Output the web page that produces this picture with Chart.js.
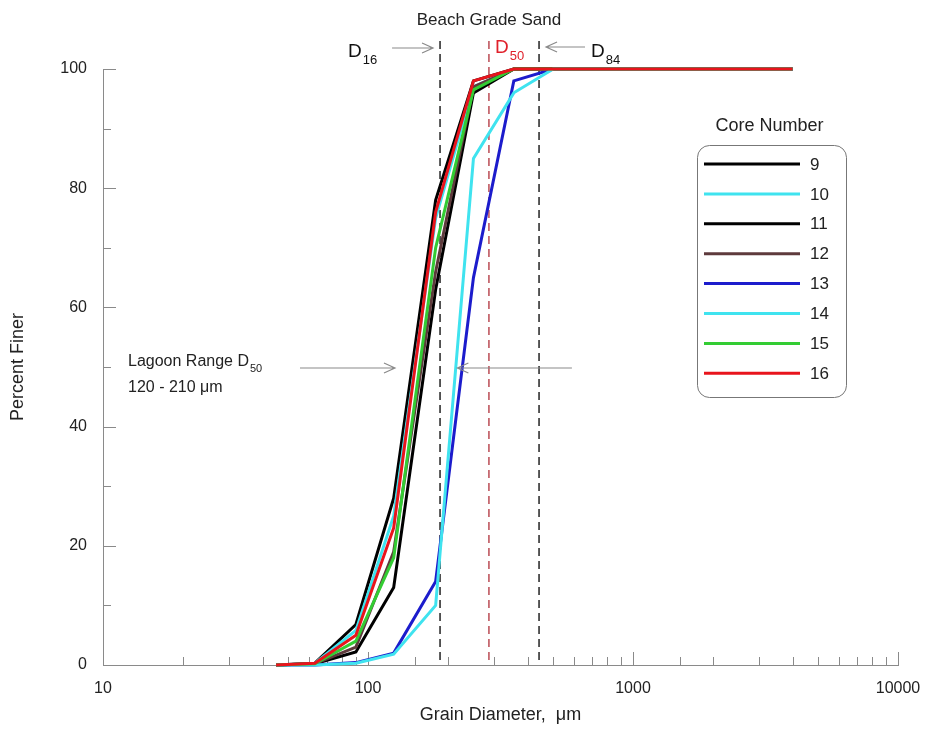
<!DOCTYPE html>
<html lang="en">
<head>
  <meta charset="UTF-8" />
  <title>Grain Size Distribution</title>
  <script src="https://cdn.jsdelivr.net/npm/chart.js"></script>
  <style>
    html, body { margin: 0; padding: 0; background: #fff; }
    #wrap { width: 928px; height: 730px; position: relative; }
  </style>
</head>
<body>
  <div id="wrap"><canvas id="gradation"></canvas></div>

  <script>
    // sieve sizes (um) and percent finer for each core
    const sizes  = [45, 63, 90, 125, 180, 250, 355, 500, 710, 1000, 1400, 2000, 2800, 4000];
    const core9  = [0, 0.3, 6.8, 28, 78, 98, 100, 100, 100, 100, 100, 100, 100, 100];
    const core10 = [0, 0.3, 5.8, 25, 75, 97, 100, 100, 100, 100, 100, 100, 100, 100];
    const core11 = [0, 0.2, 2.2, 13, 63, 96, 100, 100, 100, 100, 100, 100, 100, 100];
    const core12 = [0, 0.2, 3.0, 19, 66, 97, 100, 100, 100, 100, 100, 100, 100, 100];
    const core13 = [0, 0, 0.4, 2.0, 14, 65, 98, 100, 100, 100, 100, 100, 100, 100];
    const core14 = [0, 0, 0.3, 1.8, 10, 85, 96, 100, 100, 100, 100, 100, 100, 100];
    const core15 = [0, 0.2, 4.0, 18, 70, 96.5, 100, 100, 100, 100, 100, 100, 100, 100];
    const core16 = [0, 0.3, 5.0, 23, 76, 98, 100, 100, 100, 100, 100, 100, 100, 100];

    const coreNames  = ['9', '10', '11', '12', '13', '14', '15', '16'];
    const coreSeries = [core9, core10, core11, core12, core13, core14, core15, core16];
    const coreColors = ['#000000', '#3fe3ef', '#000000', '#5e3a3c', '#1c1ccc', '#3fe3ef', '#33cc33', '#e8141c'];

    // beach grade sand characteristic diameters (um)
    const d16 = 187, d50 = 286, d84 = 442;
    const xTickLabels = [10, 100, 1000, 10000];
    const yTickLabels = [0, 20, 40, 60, 80, 100];

    const FONT = "'Liberation Sans', Arial, sans-serif";
    const GREY = '#8a8a8a';

    const datasets = coreSeries.map((vals, i) => ({
      label: coreNames[i],
      data: sizes.map((s, j) => ({ x: s, y: vals[j] })),
      borderColor: coreColors[i],
      backgroundColor: coreColors[i],
      borderWidth: 3,
      pointRadius: 0,
      tension: 0,
      clip: false,
      order: coreSeries.length - 1 - i
    }));

    function arrow(ctx, x1, y, x2) {
      const dir = x2 > x1 ? 1 : -1;
      ctx.beginPath();
      ctx.moveTo(x1, y); ctx.lineTo(x2, y);
      ctx.moveTo(x2 - dir * 11, y - 5); ctx.lineTo(x2, y); ctx.lineTo(x2 - dir * 11, y + 5);
      ctx.stroke();
    }

    function subText(ctx, main, sub, x, y, size, color) {
      ctx.fillStyle = color;
      ctx.font = size + 'px ' + FONT;
      ctx.textBaseline = 'middle';
      ctx.textAlign = 'left';
      ctx.fillText(main, x, y);
      const w = ctx.measureText(main).width;
      ctx.font = Math.round(size * 0.68) + 'px ' + FONT;
      ctx.fillText(sub, x + w + 1, y + size * 0.42);
    }

    const decorations = {
      id: 'decorations',
      beforeDatasetsDraw(chart) {
        const { ctx, scales: { x, y }, chartArea } = chart;
        ctx.save();
        // inward tick marks
        ctx.strokeStyle = GREY;
        ctx.lineWidth = 1;
        x.ticks.forEach(t => {
          const px = Math.round(x.getPixelForValue(t.value)) + 0.5;
          const major = xTickLabels.includes(t.value);
          ctx.beginPath();
          ctx.moveTo(px, chartArea.bottom);
          ctx.lineTo(px, chartArea.bottom - (major ? 13 : 8));
          ctx.stroke();
        });
        y.ticks.forEach(t => {
          const py = Math.round(y.getPixelForValue(t.value)) + 0.5;
          const major = yTickLabels.includes(t.value);
          ctx.beginPath();
          ctx.moveTo(chartArea.left, py);
          ctx.lineTo(chartArea.left + (major ? 13 : 8), py);
          ctx.stroke();
        });

        // dashed D16 / D50 / D84 lines
        ctx.lineWidth = 1.3;
        ctx.setLineDash([8, 5]);
        [[d16, '#000'], [d50, '#b0303a'], [d84, '#000']].forEach(([v, c]) => {
          const px = x.getPixelForValue(v);
          ctx.strokeStyle = c;
          ctx.beginPath();
          ctx.moveTo(px, chartArea.top - 28);
          ctx.lineTo(px, chartArea.bottom);
          ctx.stroke();
        });
        ctx.restore();
      },
      afterDraw(chart) {
        const { ctx, scales: { x, y }, chartArea } = chart;
        ctx.save();
        const top = chartArea.top;

        // annotations above the plot
        ctx.fillStyle = '#222';
        ctx.font = '17px ' + FONT;
        ctx.textAlign = 'center';
        ctx.textBaseline = 'middle';
        ctx.fillText('Beach Grade Sand', x.getPixelForValue(d50), top - 49);

        subText(ctx, 'D', '16', x.getPixelForValue(d16) - 92, top - 17, 19, '#111');
        subText(ctx, 'D', '50', x.getPixelForValue(d50) + 6, top - 21, 19, '#e0202a');
        subText(ctx, 'D', '84', x.getPixelForValue(d84) + 52, top - 17, 19, '#111');

        ctx.strokeStyle = GREY;
        ctx.lineWidth = 1.2;
        arrow(ctx, x.getPixelForValue(d16) - 48, top - 21, x.getPixelForValue(d16) - 7);
        arrow(ctx, x.getPixelForValue(d84) + 46, top - 22, x.getPixelForValue(d84) + 7);

        // lagoon range note
        const ly = y.getPixelForValue(50);
        ctx.fillStyle = '#222';
        subText(ctx, 'Lagoon Range D', '50', chartArea.left + 25, ly - 5, 16, '#222');
        ctx.font = '16px ' + FONT;
        ctx.fillText('120 - 210 \u03bcm', chartArea.left + 25, ly + 21);
        arrow(ctx, chartArea.left + 197, ly + 1, x.getPixelForValue(120) + 6);
        arrow(ctx, x.getPixelForValue(d50) + 83, ly + 1, x.getPixelForValue(210) + 4);

        // legend box
        const bx = chartArea.right - 201, by = top + 76, bw = 149, bh = 252, r = 12;
        ctx.fillStyle = '#222';
        ctx.font = '18px ' + FONT;
        ctx.textAlign = 'center';
        ctx.fillText('Core Number', bx + bw / 2 - 2, top + 57);
        ctx.strokeStyle = '#777';
        ctx.lineWidth = 1;
        ctx.beginPath();
        ctx.roundRect(bx + 0.5, by + 0.5, bw, bh, r);
        ctx.stroke();
        ctx.font = '17px ' + FONT;
        ctx.textAlign = 'left';
        chart.data.datasets.forEach((ds, i) => {
          const ey = by + 19 + i * 29.9;
          ctx.strokeStyle = ds.borderColor;
          ctx.lineWidth = 3;
          ctx.beginPath();
          ctx.moveTo(bx + 7, ey);
          ctx.lineTo(bx + 103, ey);
          ctx.stroke();
          ctx.fillStyle = '#222';
          ctx.fillText(ds.label, bx + 113, ey + 1);
        });
        ctx.restore();
      }
    };

    new Chart(document.getElementById('gradation'), {
      type: 'line',
      data: { datasets },
      options: {
        responsive: true,
        maintainAspectRatio: false,
        animation: false,
        layout: { padding: { top: 69, right: 30, left: 5, bottom: 0 } },
        plugins: { legend: { display: false }, tooltip: { enabled: false } },
        scales: {
          x: {
            type: 'logarithmic',
            min: 10,
            max: 10000,
            grid: { display: false, drawTicks: false },
            border: { display: true, color: GREY, width: 1 },
            ticks: {
              autoSkip: false,
              maxRotation: 0,
              padding: 14,
              color: '#222',
              font: { family: FONT, size: 16 },
              callback: v => xTickLabels.includes(v) ? String(v) : ''
            },
            title: {
              display: true,
              text: 'Grain Diameter,  \u03bcm',
              color: '#222',
              font: { family: FONT, size: 18 },
              padding: { top: 4, bottom: 4 }
            },
            afterFit: s => { s.height = 65; s.paddingLeft = 0; s.paddingRight = 0; }
          },
          y: {
            min: 0,
            max: 100,
            grid: { display: false, drawTicks: false },
            border: { display: true, color: GREY, width: 1 },
            ticks: {
              stepSize: 10,
              padding: 16,
              color: '#222',
              font: { family: FONT, size: 16 },
              callback: v => yTickLabels.includes(v) ? String(v) : ''
            },
            title: {
              display: true,
              text: 'Percent Finer',
              color: '#222',
              font: { family: FONT, size: 18 },
              padding: { top: 2, bottom: 0 }
            },
            afterFit: s => { s.width = 98; }
          }
        }
      },
      plugins: [decorations]
    });
  </script>
</body>
</html>
